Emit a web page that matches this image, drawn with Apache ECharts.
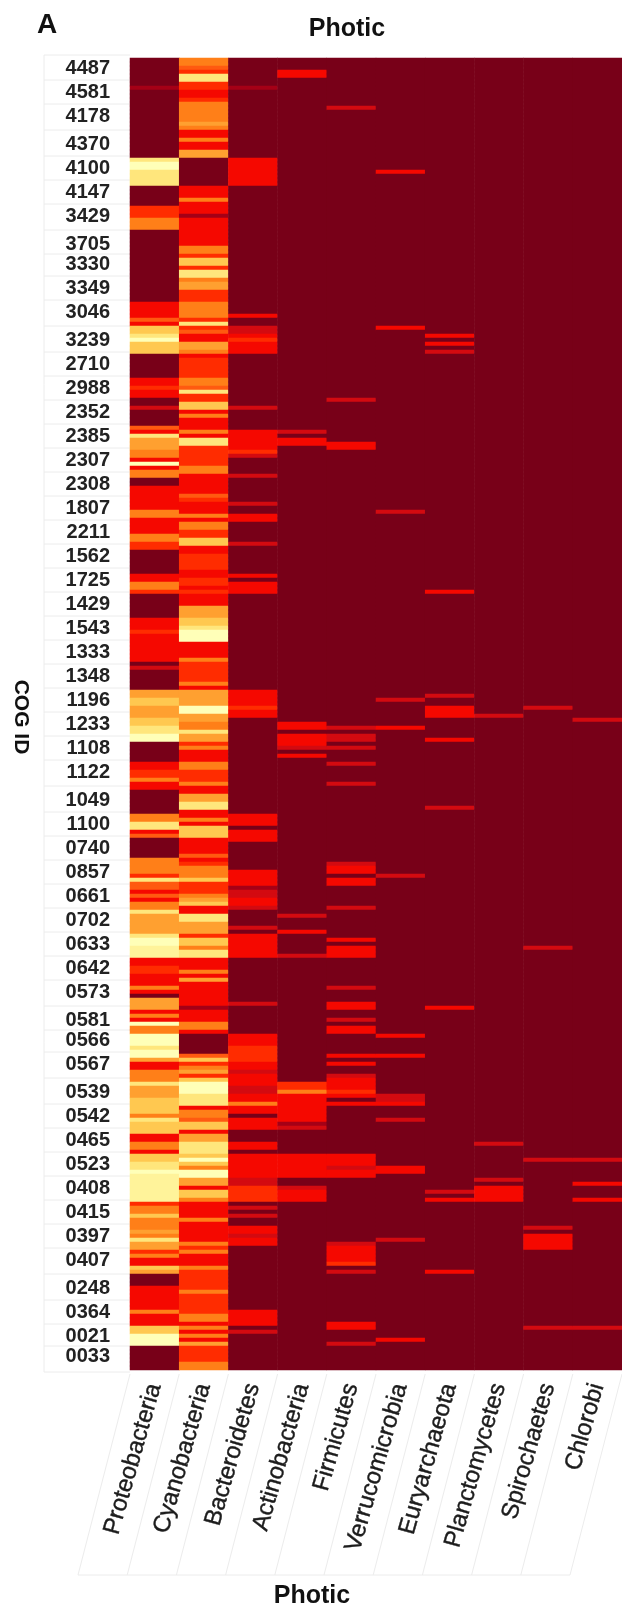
<!DOCTYPE html>
<html><head><meta charset="utf-8">
<style>html,body{margin:0;padding:0;background:#fff}#c{width:622px;height:1611px}</style>
<script src="https://cdn.jsdelivr.net/npm/echarts@6/dist/echarts.min.js"></script>
</head><body><div id="c"></div>
<script>
const taxa = ['Proteobacteria','Cyanobacteria','Bacteroidetes','Actinobacteria','Firmicutes','Verrucomicrobia','Euryarchaeota','Planctomycetes','Spirochaetes','Chlorobi'];
const rowCount = 328;
const cogIds = ['4487','4581','4178','4370','4100','4147','3429','3705','3330','3349','3046','3239','2710','2988','2352','2385','2307','2308','1807','2211','1562','1725','1429','1543','1333','1348','1196','1233','1108','1122','1049','1100','0740','0857','0661','0702','0633','0642','0573','0581','0566','0567','0539','0542','0465','0523','0408','0415','0397','0407','0248','0364','0021','0033'];
const cogRows = [2,8,14,21,27,33,39,46,51,57,63,70,76,82,88,94,100,106,112,118,124,130,136,142,148,154,160,166,172,178,185,191,197,203,209,215,221,227,233,240,245,251,258,264,270,276,282,288,294,300,307,313,319,324];
// each run: [first row, last row, abundance level 0..10]; unlisted rows are level 0
const proteobacteria = [[7,7,1],[25,25,9],[26,27,10],[28,31,9],[37,39,4],[40,42,6],[61,64,3],[65,65,5],[66,66,3],[67,68,8],[69,69,9],[70,70,10],[71,73,8],[80,81,3],[82,82,4],[83,84,3],[87,87,2],[92,92,5],[93,93,3],[94,94,9],[95,97,7],[98,99,6],[100,100,3],[101,101,10],[102,102,3],[103,104,6],[107,112,3],[113,114,6],[115,118,3],[119,120,6],[121,122,4],[129,130,3],[131,132,6],[133,133,4],[140,142,3],[143,143,4],[144,150,3],[152,152,2],[158,159,7],[160,161,8],[162,164,7],[165,166,8],[167,168,9],[169,170,10],[176,177,3],[178,179,4],[180,180,6],[181,182,3],[189,190,6],[191,192,9],[193,193,3],[194,194,5],[200,203,6],[204,204,4],[205,205,9],[206,207,5],[208,208,3],[209,209,5],[210,210,3],[211,212,6],[213,213,9],[214,215,7],[216,218,7],[219,219,9],[220,221,10],[222,224,9.5],[225,226,3],[227,228,4],[229,231,3],[232,232,6],[233,233,3],[235,237,7],[238,238,3],[239,239,6],[240,240,3],[241,241,10],[242,243,6],[244,246,10],[247,247,9],[248,249,10],[250,250,7],[251,252,3],[253,255,6],[256,256,9],[257,259,7],[260,263,8],[264,264,6],[265,265,9],[266,268,8],[269,270,3],[271,272,6],[273,273,3],[274,275,8],[276,277,9],[278,278,10],[279,285,9.5],[286,286,4],[287,288,6],[289,289,8],[290,292,6],[293,293,7],[294,294,6],[295,295,9],[296,297,7],[298,298,4],[299,299,6],[300,301,3],[302,302,8],[303,303,7],[307,312,3],[313,313,6],[314,316,3],[317,318,8],[319,321,10]];
const cyanobacteria = [[0,1,6],[2,2,5],[3,3,4],[4,5,9],[6,7,4],[8,9,3],[10,10,4],[11,15,6],[16,16,7],[17,17,6],[18,19,3],[20,20,6],[21,22,3],[23,24,7],[32,34,3],[35,35,6],[36,38,3],[39,39,1],[40,46,3],[47,48,6],[49,49,4],[50,51,8],[52,52,4],[53,54,9],[55,55,6],[56,57,7],[58,60,4],[61,64,6],[65,65,4],[66,66,9],[67,67,4],[68,68,5],[69,70,3],[71,72,7],[73,73,6],[74,74,3],[75,79,4],[80,81,6],[82,82,5],[83,83,9],[84,85,4],[86,87,8],[88,88,3],[89,89,6],[90,92,3],[93,93,6],[94,94,3],[95,96,9],[97,101,4],[102,103,6],[104,108,3],[109,109,5],[110,110,4],[111,113,3],[114,114,6],[115,115,3],[116,117,6],[118,119,4],[120,121,8],[122,123,3],[124,127,4],[128,129,3],[130,131,4],[132,132,3],[133,133,4],[134,136,3],[137,139,7],[140,141,8],[142,142,9],[143,145,10],[146,149,3],[150,150,6],[151,155,4],[156,156,6],[157,157,3],[158,161,7],[162,163,10],[164,165,7],[166,167,6],[168,168,9],[169,170,7],[171,171,4],[172,172,6],[173,175,3],[176,177,6],[178,180,4],[181,181,6],[182,183,3],[184,185,7],[186,187,9],[188,189,3],[190,190,6],[191,191,3],[192,194,8],[195,198,3],[199,199,5],[200,200,3],[201,201,4],[202,204,6],[205,205,8],[206,208,4],[209,209,6],[210,210,7],[211,211,8],[212,213,3],[214,215,9],[216,218,7],[219,219,4],[220,221,8],[222,222,6],[223,224,9],[225,227,3],[228,228,6],[229,229,3],[230,230,7],[231,236,3],[237,237,1],[238,240,3],[241,242,6],[243,243,3],[249,249,5],[250,250,8],[251,251,4],[252,252,6],[253,253,7],[254,254,4],[255,255,8],[256,258,10],[259,261,9],[262,262,3],[263,264,6],[265,265,5],[266,267,8],[268,268,3],[269,270,7],[271,273,9],[274,274,8],[275,275,10],[276,276,8],[277,277,6],[278,279,10],[280,281,7],[282,282,3],[283,284,8],[285,285,6],[286,289,3],[290,290,6],[291,295,3],[296,296,6],[297,297,4],[298,298,6],[299,301,3],[302,302,6],[303,307,4],[308,308,6],[309,313,4],[314,315,6],[316,316,3],[317,317,6],[318,318,3],[319,319,6],[320,320,3],[321,321,7],[322,325,4],[326,327,6]];
const bacteroidetes = [[7,7,1],[25,31,3],[64,64,3],[67,68,2],[69,69,3],[70,70,4],[71,73,3],[87,87,2],[93,97,3],[98,98,4],[99,99,2],[104,104,2],[111,111,2],[114,115,3],[121,121,2],[129,129,3],[131,133,3],[158,161,3],[162,162,4],[163,164,3],[189,191,3],[193,195,3],[203,206,3],[207,207,1],[208,209,2],[210,211,3],[212,212,2],[217,217,2],[219,224,3],[236,236,2],[244,246,3],[247,250,4],[251,252,3],[253,253,2],[254,256,3],[257,258,2],[259,260,3],[261,261,6],[262,263,3],[265,267,3],[271,272,3],[274,279,3],[280,281,2],[282,285,4],[287,287,2],[289,289,2],[292,293,3],[294,294,2],[295,296,3],[313,316,3],[318,318,2]];
const actinobacteria = [[3,4,3],[93,93,2],[95,96,3],[166,167,3],[169,171,3],[172,172,2],[174,174,3],[214,214,2],[218,218,3],[224,224,2],[256,257,4],[258,258,6],[259,265,3],[266,266,1],[267,267,2],[274,279,3],[282,282,2],[283,285,3]];
const firmicutes = [[12,12,2],[85,85,2],[96,97,3],[167,167,2],[169,170,2],[172,172,2],[176,176,2],[181,181,2],[201,201,2],[202,203,3],[205,206,3],[212,212,2],[220,220,3],[222,224,3],[232,232,2],[236,237,3],[240,240,2],[242,243,3],[249,249,3],[251,251,3],[254,254,2],[255,257,3],[258,258,4],[259,259,3],[261,261,3],[274,276,3],[277,277,2],[278,279,3],[296,296,2],[297,300,3],[301,301,4],[303,303,2],[316,317,3],[321,321,2]];
const verrucomicrobia = [[28,28,3],[67,67,3],[113,113,2],[160,160,2],[167,167,3],[204,204,2],[244,244,3],[249,249,3],[259,260,2],[261,261,3],[265,265,2],[277,278,3],[295,295,2],[320,320,3]];
const euryarchaeota = [[69,69,3],[71,71,3],[73,73,2],[133,133,3],[159,159,2],[162,164,3],[170,170,3],[187,187,2],[237,237,3],[283,283,2],[285,285,3],[303,303,3]];
const planctomycetes = [[164,164,2],[271,271,2],[280,280,2],[282,285,3]];
const spirochaetes = [[162,162,2],[222,222,2],[275,275,2],[292,292,2],[294,297,3],[317,317,2]];
const chlorobi = [[165,165,2],[275,275,2],[281,281,3],[285,285,3],[317,317,2]];
const levelColors = ['#780018','#a50016','#d30a10','#f50800','#ff2c00','#ff5a10','#ff7f18','#ffa030','#ffc850','#ffe67c','#ffffb8'];

const columns = [proteobacteria,cyanobacteria,bacteroidetes,actinobacteria,firmicutes,verrucomicrobia,euryarchaeota,planctomycetes,spirochaetes,chlorobi];
const cells = [];
columns.forEach((runs,c)=>{
  const col = new Array(rowCount).fill(0);
  runs.forEach(([a,b,v])=>{ for(let r=a;r<=b;r++) col[r]=v; });
  col.forEach((v,r)=>cells.push([c,r,v]));
});
const rowLabels = new Array(rowCount).fill('');
cogRows.forEach((r,i)=>{ rowLabels[r]=cogIds[i]; });

const FONT = '"Liberation Sans", Arial, sans-serif';
const chart = echarts.init(document.getElementById('c'),null,{renderer:'canvas'});
const plot = {left:130, top:58, width:500, height:1312};
chart.setOption({
  animation:false,
  backgroundColor:'#fff',
  grid:{left:plot.left,top:plot.top,width:plot.width,height:plot.height,containLabel:false},
  xAxis:{type:'category',data:taxa,position:'bottom',
    axisLine:{show:false},axisTick:{show:false},splitLine:{show:false},
    axisLabel:{interval:0,rotate:74,margin:14,hideOverlap:false,color:'#1c1c1c',fontFamily:FONT,fontSize:24,textBorderColor:'#1c1c1c',textBorderWidth:0.4}},
  yAxis:{type:'category',inverse:true,data:rowLabels,
    axisLine:{show:false},axisTick:{show:false},splitLine:{show:false},
    axisLabel:{interval:(i)=>rowLabels[i]!=='',margin:20,color:'#222',fontFamily:FONT,fontWeight:'bold',fontSize:20,hideOverlap:false}},
  visualMap:{show:false,type:'continuous',dimension:2,min:0,max:10,inRange:{color:levelColors},seriesIndex:0},
  series:[{type:'heatmap',data:cells,progressive:0,itemStyle:{borderWidth:0},emphasis:{disabled:true}}],
  title:[
    {text:'A',left:32,top:6,textStyle:{fontFamily:FONT,fontSize:28,fontWeight:'bold',color:'#111'}},
    {text:'Photic',left:342,top:12,textAlign:'center',textStyle:{fontFamily:FONT,fontSize:25,fontWeight:'bold',color:'#111'}},
    {text:'Photic',left:307,top:1579,textAlign:'center',textStyle:{fontFamily:FONT,fontSize:25,fontWeight:'bold',color:'#111'}}
  ]
});

// Faint frame of the table: row separators, slanted column rules, and the rotated axis title.
const py = (r)=>chart.convertToPixel({yAxisIndex:0},r);
const px = (c)=>chart.convertToPixel({xAxisIndex:0},c);
const colW = px(1)-px(0);
const frame = {stroke:'#ececec',lineWidth:1};
const g = [];
const seps = [plot.top-3];
for(let i=0;i<cogRows.length-1;i++) seps.push(py(cogRows[i])/2+py(cogRows[i+1])/2);
seps.push(plot.top+plot.height+2);
seps.forEach(y=>g.push({type:'line',shape:{x1:44,y1:y,x2:plot.left,y2:y},style:frame,silent:true}));
g.push({type:'line',shape:{x1:44,y1:plot.top-3,x2:44,y2:plot.top+plot.height+2},style:frame,silent:true});
for(let c=0;c<=10;c++){
  const x = px(0)-colW/2+c*colW;
  g.push({type:'line',shape:{x1:x,y1:plot.top+plot.height+4,x2:x-52,y2:1575},style:frame,silent:true});
}
g.push({type:'line',shape:{x1:px(0)-colW/2-52,y1:1575,x2:px(0)-colW/2-52+10*colW,y2:1575},style:frame,silent:true});
g.push({type:'text',x:21,y:717,rotation:-Math.PI/2,style:{text:'COG ID',font:'bold 21px '+FONT,fill:'#111',textAlign:'center',textVerticalAlign:'middle'},silent:true});
chart.setOption({graphic:g});
</script></body></html>
